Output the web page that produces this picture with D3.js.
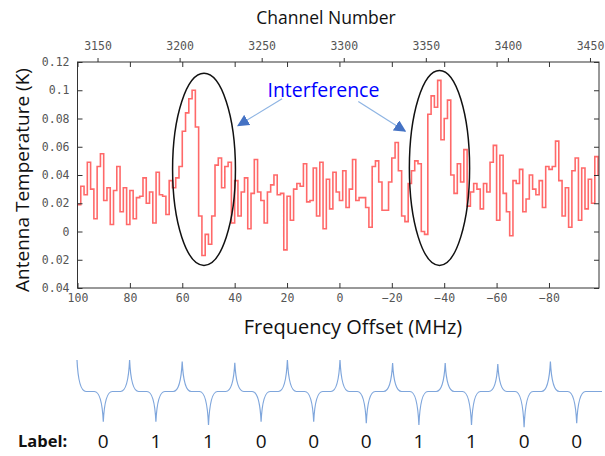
<!DOCTYPE html>
<html>
<head>
<meta charset="utf-8">
<script src="https://cdn.jsdelivr.net/npm/d3@7"></script>
<style>
  body { margin: 0; background: #fff; }
  .tick text { font-family: "DejaVu Sans Mono", monospace; font-size: 11.5px; fill: #555; }
  .tick line { stroke: #333; }
</style>
</head>
<body>
<svg id="chart" width="605" height="456"></svg>
<script>
// spectrum, 1.25 MHz bins starting at +100 MHz
const binStart = 100;
const binWidth = 1.25;
const temps = [
  0.019, 0.032, 0.026, 0.049, 0.030, 0.009, 0.046, 0.055, 0.022, 0.031,
  0.005, 0.029, 0.046, 0.014, 0.031, 0.005, 0.029, 0.009, 0.024, 0.025,
  0.038, 0.020, 0.028, 0.006, 0.042, 0.026, 0.025, 0.012, 0.036, 0.031,
  0.038, 0.046, 0.071, 0.084, 0.094, 0.100, 0.074, 0.011, -0.017, -0.002,
  -0.009, 0.011, 0.047, 0.052, 0.031, 0.046, 0.049, 0.006, 0.036, 0.011,
  0.028, 0.038, 0.002, 0.027, 0.051, 0.028, 0.022, 0.006, 0.028, 0.033,
  0.040, 0.026, 0.027, -0.013, 0.025, 0.008, 0.030, 0.034, 0.032, 0.048,
  0.021, 0.022, 0.045, 0.011, 0.049, 0.002, 0.037, 0.016, 0.042, 0.028,
  0.022, 0.043, 0.017, 0.030, 0.051, 0.022, 0.024, 0.024, 0.017, 0.003,
  0.046, 0.050, 0.035, 0.015, 0.015, 0.035, 0.052, 0.063, 0.043, 0.011,
  0.007, 0.034, 0.043, 0.050, 0.048, 0.000, -0.002, 0.083, 0.096, 0.088,
  0.107, 0.065, 0.080, 0.093, 0.040, 0.027, 0.048, 0.035, 0.058, 0.018,
  0.028, 0.034, 0.030, 0.016, 0.034, 0.028, 0.049, 0.061, 0.008, 0.054,
  0.027, 0.014, -0.003, 0.036, 0.034, 0.044, 0.014, 0.023, 0.040, 0.030,
  0.026, 0.036, 0.017, 0.046, 0.044, 0.046, 0.064, 0.036, 0.011, 0.031,
  0.003, 0.043, 0.052, 0.008, 0.045, 0.016, 0.037, 0.020, 0.053, 0.040
];

const freqTicks = [100, 80, 60, 40, 20, 0, -20, -40, -60, -80];
const chanTicks = [3150, 3200, 3250, 3300, 3350, 3400, 3450];
const tempTicks = [0.12, 0.1, 0.08, 0.06, 0.04, 0.02, 0, -0.02, -0.04];
const tempTickLabels = ["0.12", "0.1", "0.08", "0.06", "0.04", "0.02", "0", "0.02", "0.04"];

// annotations [MHz, K]
const ellipses = [
  { f: 51.7, t: 0.044, rf: 12.0, rt: 0.068 },
  { f: -38.2, t: 0.045, rf: 11.5, rt: 0.069 }
];
const arrows = [
  { from: [21.9, 0.094], to: [38.7, 0.075] },
  { from: [-7.2, 0.092], to: [-25.1, 0.071] }
];

// bit waveform below
const bits = [0, 1, 1, 0, 0, 0, 1, 1, 0, 0];
const upAmps = [1.03, 1.03, 0.98, 0.94, 1.03, 1.03, 0.93, 0.93, 0.90, 0.98];
const downAmps = [-0.99, -0.99, -1.10, -0.99, -0.99, -1.04, -1.10, -1.10, -1.17, -1.04];

const svg = d3.select("#chart");
const mLeft = 77.5, mRight = 599, mTop = 62, mBottom = 288;

const x = d3.scaleLinear().domain([100, -99.1]).range([mLeft, mRight]);
const xChan = d3.scaleLinear().domain([3137.8, 3455.5]).range([mLeft, mRight]);
const y = d3.scaleLinear().domain([-0.04, 0.12]).range([mBottom, mTop]);

const defs = svg.append("defs");
defs.append("clipPath").attr("id", "plotclip")
  .append("rect").attr("x", mLeft).attr("y", mTop)
  .attr("width", mRight - mLeft).attr("height", mBottom - mTop);

// trace
let pts = temps.map((t, i) => ({ f: binStart - i * binWidth, t: t }));
pts.push({ f: binStart - temps.length * binWidth, t: temps[temps.length - 1] });
let line = d3.line()
  .x(d => x(d.f))
  .y(d => y(d.t))
  .curve(d3.curveStepAfter);
svg.append("path")
  .attr("clip-path", "url(#plotclip)")
  .attr("fill", "none")
  .attr("stroke", "#ff4f4f")
  .attr("stroke-opacity", 0.85)
  .attr("stroke-width", 1.6)
  .attr("d", line(pts));

// axes
svg.append("g")
  .attr("transform", `translate(0, ${mBottom})`)
  .call(d3.axisBottom(x).tickValues(freqTicks).tickSize(-5).tickPadding(6))
  .call(g => g.select(".domain").remove());
svg.append("g")
  .attr("transform", `translate(0, ${mTop})`)
  .call(d3.axisTop(x).tickValues(freqTicks).tickSize(-5).tickFormat(""))
  .call(g => g.select(".domain").remove());
svg.append("g")
  .attr("transform", `translate(0, ${mTop})`)
  .call(d3.axisTop(xChan).tickValues(chanTicks).tickSize(4).tickPadding(8)
    .tickFormat(d3.format("d")))
  .call(g => g.select(".domain").remove());
svg.append("g")
  .attr("transform", `translate(${mLeft}, 0)`)
  .call(d3.axisLeft(y).tickValues(tempTicks).tickSize(-5).tickPadding(8)
    .tickFormat((d, i) => tempTickLabels[i]))
  .call(g => g.select(".domain").remove());
svg.append("g")
  .attr("transform", `translate(${mRight}, 0)`)
  .call(d3.axisRight(y).tickValues(tempTicks).tickSize(-5).tickFormat(""))
  .call(g => g.select(".domain").remove());

svg.append("rect")
  .attr("x", mLeft).attr("y", mTop)
  .attr("width", mRight - mLeft).attr("height", mBottom - mTop)
  .attr("fill", "none").attr("stroke", "#333").attr("stroke-width", 1);

// titles
const titleFont = "'Open Sans', sans-serif";
svg.append("text")
  .attr("x", 326).attr("y", 24)
  .attr("text-anchor", "middle")
  .style("font-family", titleFont).style("font-size", "17.5px").style("fill", "#111")
  .text("Channel Number");
svg.append("text")
  .attr("x", 353).attr("y", 334)
  .attr("text-anchor", "middle")
  .style("font-family", titleFont).style("font-size", "20px").style("fill", "#111")
  .text("Frequency Offset (MHz)");
svg.append("text")
  .attr("transform", `translate(29, 180) rotate(-90)`)
  .attr("text-anchor", "middle")
  .style("font-family", titleFont).style("font-size", "19px").style("fill", "#111")
  .text("Antenna Temperature (K)");

// ellipses
svg.selectAll(".ell").data(ellipses).enter().append("ellipse")
  .attr("cx", d => x(d.f))
  .attr("cy", d => y(d.t))
  .attr("rx", d => Math.abs(x(d.f + d.rf) - x(d.f)))
  .attr("ry", d => Math.abs(y(d.t + d.rt) - y(d.t)))
  .attr("fill", "none").attr("stroke", "#111").attr("stroke-width", 1.5);

// arrows
defs.append("marker")
  .attr("id", "head").attr("viewBox", "0 0 10 10")
  .attr("refX", 9).attr("refY", 5)
  .attr("markerWidth", 12).attr("markerHeight", 12)
  .attr("markerUnits", "userSpaceOnUse")
  .attr("orient", "auto")
  .append("path").attr("d", "M0,0 L10,5 L0,10 Z").attr("fill", "#4472c4");
svg.selectAll(".arr").data(arrows).enter().append("line")
  .attr("x1", d => x(d.from[0])).attr("y1", d => y(d.from[1]))
  .attr("x2", d => x(d.to[0])).attr("y2", d => y(d.to[1]))
  .attr("stroke", "#8eb4e3").attr("stroke-width", 1.2)
  .attr("marker-end", "url(#head)");

svg.append("text")
  .attr("x", x(6.1)).attr("y", y(0.095))
  .attr("text-anchor", "middle")
  .style("font-family", titleFont).style("font-size", "19.5px").style("fill", "#0000ff")
  .text("Interference");

// waveform
const xb = d3.scaleLinear().domain([0, bits.length]).range([77, 603]);
const yw = d3.scaleLinear().domain([-1, 1]).range([422, 361]);
const w = 9;
const p = d3.path();
const base = yw(0);
p.moveTo(xb(0), yw(upAmps[0]));
p.quadraticCurveTo(xb(0) + 1.5, base, xb(0) + w, base);
bits.forEach((b, i) => {
  let xc = xb(i + 0.5);
  p.lineTo(xc - w, base);
  p.quadraticCurveTo(xc - 1.5, base, xc, yw(downAmps[i]));
  p.quadraticCurveTo(xc + 1.5, base, xc + w, base);
  if (i + 1 < bits.length) {
    let xe = xb(i + 1);
    p.lineTo(xe - w, base);
    p.quadraticCurveTo(xe - 1.5, base, xe, yw(upAmps[i + 1]));
    p.quadraticCurveTo(xe + 1.5, base, xe + w, base);
  }
});
p.lineTo(xb(bits.length) - 1, base);
svg.append("path")
  .attr("d", p.toString())
  .attr("fill", "none").attr("stroke", "#7fa6dc").attr("stroke-width", 1.2);

svg.append("text")
  .attr("x", 18).attr("y", 447)
  .style("font-family", titleFont).style("font-size", "16.5px").style("font-weight", "bold").style("fill", "#111")
  .text("Label:");
svg.selectAll(".bit").data(bits).enter().append("text")
  .attr("x", (d, i) => xb(i + 0.5))
  .attr("y", 448)
  .attr("text-anchor", "middle")
  .style("font-family", titleFont).style("font-size", "19px").style("fill", "#111")
  .text(d => d);
</script>
</body>
</html>
